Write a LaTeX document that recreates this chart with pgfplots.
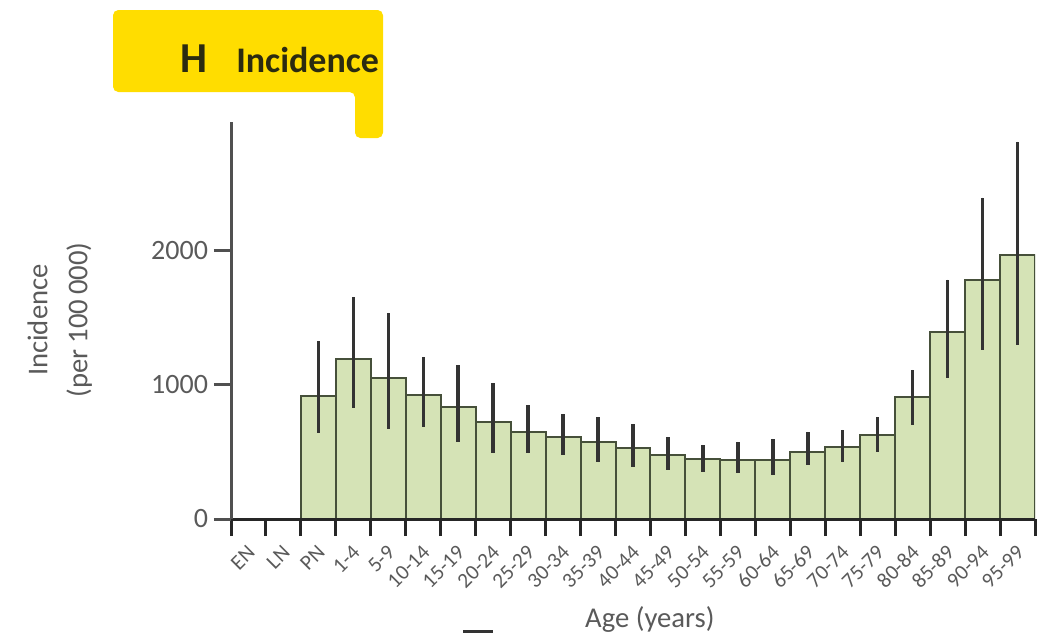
\documentclass[border=0pt]{standalone}
\usepackage{pgfplots}
\pgfplotsset{compat=1.18}
\usepackage{fontspec}
\setmainfont{Carlito}
\definecolor{barfill}{HTML}{D5E3B6}
\definecolor{baredge}{HTML}{46503A}
\definecolor{errc}{HTML}{333333}
\definecolor{axisc}{HTML}{505050}
\definecolor{txtc}{HTML}{5A5A5A}
\definecolor{ttl}{HTML}{FFDD00}
\definecolor{ttltxt}{HTML}{2B2B10}
\pgfplotstableread{
x    y     ep   em
2.5  918   410  276
3.5  1194  463  366
4.5  1052  485  380
5.5  925   284  238
6.5  836   313  261
7.5  724   291  232
8.5  649   202  157
9.5  612   172  134
10.5 575   186  150
11.5 530   179  142
12.5 475   137  109
13.5 445   107  94
14.5 440   135  97
15.5 440   157  112
16.5 500   149  97
17.5 537   127  112
18.5 627   134  127
19.5 910   202  209
20.5 1395  389  343
21.5 1784  612  523
22.5 1970  843  671
}\incid
\begin{document}
\begin{tikzpicture}
\path[use as bounding box] (0,0) rectangle (794.25pt,-479.25pt);
\begin{axis}[
  at={(173.25pt,-389.25pt)}, anchor=south west,
  scale only axis, width=603pt, height=297.75pt,
  xmin=0, xmax=23, ymin=0, ymax=2960,
  axis x line=bottom, axis y line=left,
  x axis line style={-, line width=2.25pt, color=black!85},
  y axis line style={-, line width=2.25pt, color=axisc},
  axis on top,
  tick align=outside,
  xtick={0.5,1.5,...,22.5},
  xticklabels={EN,LN,PN,1-4,5-9,10-14,15-19,20-24,25-29,30-34,35-39,40-44,45-49,50-54,55-59,60-64,65-69,70-74,75-79,80-84,85-89,90-94,95-99},
  major x tick style={draw=none},
  minor xtick={0,...,23},
  minor tick length=12.75pt,
  major tick length=12.75pt,
  minor x tick style={line width=2.25pt, color=black!85},
  ytick={0,1000,2000},
  ytick style={line width=2.25pt, color=axisc},
  /pgf/number format/assume math mode=true,
  /pgf/number format/set thousands separator={},
  scaled y ticks=false,
  yticklabel style={font=\fontsize{21}{24}\selectfont, text=txtc, xshift=-1pt},
  xticklabel style={font=\fontsize{16}{18}\selectfont, text=txtc, rotate=45, anchor=east, xshift=-2pt, yshift=-8.5pt},
  ylabel={Incidence\\(per 100\,000)},
  ylabel style={align=center, font=\fontsize{21.5}{30}\selectfont, text=txtc, at={(axis description cs:-0.213,0.501)}, anchor=center},
  xlabel={Age (years)},
  xlabel style={font=\fontsize{21.5}{24}\selectfont, text=txtc, at={(axis description cs:0.521,-0.254)}, anchor=center},
  ybar, bar width=1,
]
\addplot[ybar, fill=barfill, draw=baredge, line width=1.5pt,
  error bars/.cd, y dir=both, y explicit, error mark=none,
  error bar style={line width=2.6pt, color=errc}]
  table[x=x, y=y, y error plus=ep, y error minus=em] {\incid};
\end{axis}
\begin{scope}[x=0.75pt, y=-0.75pt]
\fill[ttl, rounded corners=4pt] (113,10) -- (383,10) -- (383,138) -- (355,138) -- (355,92) -- (113,92) -- cycle;
\node[anchor=base west, inner sep=0, text=ttltxt, font=\fontsize{32}{36}\selectfont\bfseries] at (180,72) {H};
\node[anchor=base west, inner sep=0, text=ttltxt, font=\fontsize{27}{30}\selectfont\bfseries] at (236,72) {Incidence};
\draw[line width=2.25pt, black!80] (463,631) -- (493,631);
\end{scope}
\end{tikzpicture}
\end{document}
